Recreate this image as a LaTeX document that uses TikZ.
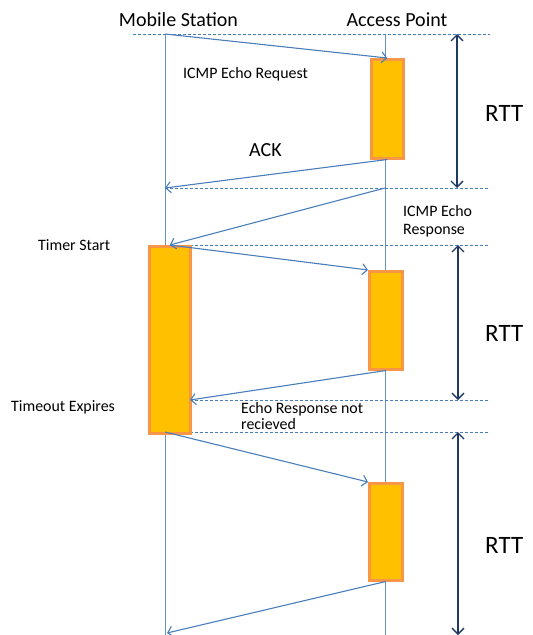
\documentclass[tikz,border=0pt]{standalone}
\usepackage{fontspec}
\setmainfont{Carlito}
\usetikzlibrary{arrows.meta}
\definecolor{msgblue}{HTML}{4A7EBB}
\definecolor{actfill}{HTML}{FFC000}
\definecolor{actedge}{HTML}{F79646}
\definecolor{rttnavy}{HTML}{1F3864}
\begin{document}
\begin{tikzpicture}[x=1pt,y=-1pt,
  actbox/.style={draw=actedge, fill=actfill, line width=2.5pt, inner sep=0pt, anchor=north west},
  msg/.style={draw=msgblue, line width=1.1pt, -{Straight Barb[length=5pt,width=11pt]}},
  lifeline/.style={draw=msgblue!85, line width=0.9pt},
  guide/.style={draw=msgblue, line width=0.7pt, dash pattern=on 3pt off 2pt},
  rtt/.style={draw=rttnavy, line width=1.4pt, {Straight Barb[length=6pt,width=12pt]}-{Straight Barb[length=6pt,width=12pt]}},
  lbl/.style={font=\fontsize{15.9}{18}\selectfont, inner sep=0pt, anchor=west, align=left},
  title/.style={font=\fontsize{20}{24}\selectfont, inner sep=0pt},
  rttlbl/.style={font=\fontsize{25}{28}\selectfont, inner sep=0pt, anchor=west}]
\useasboundingbox (0,0) rectangle (533,635);

% lifeline end points
\coordinate (msTop) at (165,34);
\coordinate (msBot) at (165,635);
\coordinate (apTop) at (385,34);
\coordinate (apBot) at (385,635);

% guide line end points
\coordinate (g1a) at (133,34);  \coordinate (g1b) at (490,34);
\coordinate (g2a) at (165,188); \coordinate (g2b) at (490,188);
\coordinate (g3a) at (165,245); \coordinate (g3b) at (490,245);
\coordinate (g4a) at (190,400); \coordinate (g4b) at (490,400);
\coordinate (g5a) at (165,432); \coordinate (g5b) at (490,432);
\coordinate (apResp) at (385,188);
\coordinate (msEnd) at (167,633);

% lifelines
\draw[lifeline] (msTop) -- (msBot);
\draw[lifeline] (apTop) -- (apBot);

% dashed time marks
\draw[guide] (g1a) -- (g1b);
\draw[guide] (g2a) -- (g2b);
\draw[guide] (g3a) -- (g3b);
\draw[guide] (g4a) -- (g4b);
\draw[guide] (g5a) -- (g5b);

% activation bars
\node[actbox, minimum width=32pt, minimum height=99pt] (ap1) at (370,58) {};
\node[actbox, minimum width=41pt, minimum height=187pt] (ms1) at (148,245) {};
\node[actbox, minimum width=33pt, minimum height=98pt] (ap2) at (368,270) {};
\node[actbox, minimum width=33pt, minimum height=97pt] (ap3) at (368,482) {};

% messages
\draw[msg] (msTop) -- (ap1.north);
\draw[msg] (ap1.south) -- (g2a);
\draw[msg] (apResp) -- (ms1.north);
\draw[msg] (ms1.north) -- (ap2.north west);
\draw[msg] (ap2.south) -- (g4a);
\draw[msg] (g5a) -- (ap3.north west);
\draw[msg] (ap3.south) -- (msEnd);

% round trip times
\coordinate (r1a) at (457,34);  \coordinate (r1b) at (457,188);
\coordinate (r2a) at (458,245); \coordinate (r2b) at (458,400);
\coordinate (r3a) at (458,432); \coordinate (r3b) at (458,635);
\draw[rtt] (r1a) -- (r1b);
\draw[rtt] (r2a) -- (r2b);
\draw[rtt] (r3a) -- (r3b);

% labels
\node[title] (tMS) at (178.5,20) {Mobile Station};
\node[title] (tAP) at (397,20) {Access Point};
\node[lbl] (lReq) at (183,74) {ICMP Echo Request};
\node[lbl, font=\fontsize{20}{24}\selectfont] (lAck) at (249,150) {ACK};
\node[lbl] (lResp) at (403,221) {ICMP Echo\\Response};
\node[lbl] (lTimer) at (38,245) {Timer Start};
\node[lbl] (lTimeout) at (11,407) {Timeout Expires};
\node[lbl, font=\fontsize{15.9}{16}\selectfont] (lLost) at (241,416) {Echo Response not\\recieved};
\node[rttlbl] (rtt1) at (485,113) {RTT};
\node[rttlbl] (rtt2) at (485,333) {RTT};
\node[rttlbl] (rtt3) at (485,545) {RTT};
\end{tikzpicture}
\end{document}
